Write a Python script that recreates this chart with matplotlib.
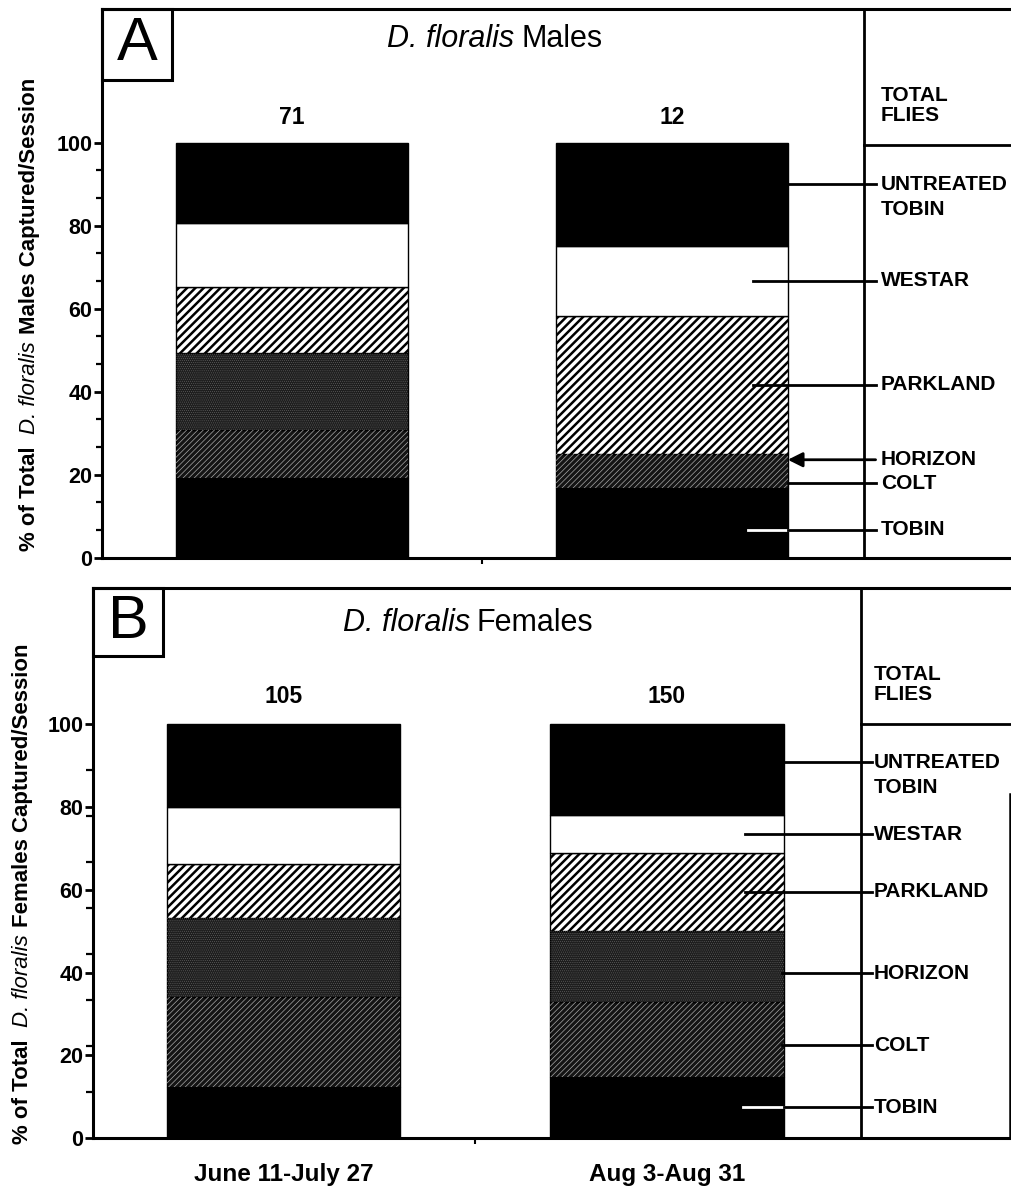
import matplotlib
matplotlib.use("Agg")
import matplotlib.pyplot as plt
from matplotlib.patches import Rectangle
from matplotlib.text import Annotation
from matplotlib.ticker import FixedLocator
import numpy as np

plt.rcParams["font.family"] = ["Liberation Sans", "DejaVu Sans"]

# ---- data -------------------------------------------------------------
periods = ["June 11-July 27", "Aug 3-Aug 31"]
varieties = ["TOBIN", "COLT", "HORIZON", "PARKLAND", "WESTAR", "UNTREATED TOBIN"]  # bottom -> top

males_early = [19.1, 11.7, 18.6, 15.9, 15.3, 19.4]
males_late = [16.7, 8.3, 0.0, 33.3, 16.7, 25.0]
females_early = [12.4, 21.6, 19.1, 13.0, 13.9, 20.0]
females_late = [14.9, 18.1, 17.1, 18.7, 9.2, 22.0]

total_males = [71, 12]
total_females = [105, 150]

species = "D. floralis"

# ---- styling ----------------------------------------------------------
fill_styles = {
    "TOBIN": dict(face="black"),
    "COLT": dict(face="#141414", hatch="//////", hcolor="#a8a8a8", hlw=0.5),
    "HORIZON": dict(face="#1e1e1e", hatch="........", hcolor="#6e6e6e", hlw=0.3),
    "PARKLAND": dict(face="white", hatch="////", hcolor="black", hlw=1.8),
    "WESTAR": dict(face="white"),
    "UNTREATED TOBIN": dict(face="black"),
}

W, H = 1012, 1188
fig = plt.figure(figsize=(W / 100, H / 100), dpi=100)

BAR_W = 0.61
SEP_X = 1.506
LEG_FS = 15
TICK_FS = 15.5


def px_axes(left, right, top, bottom):
    return [left / W, (H - bottom) / H, (right - left) / W, (bottom - top) / H]


def hatch_bar(ax, x, h, b, hatch, color, lw):
    with plt.rc_context({"hatch.linewidth": lw}):
        bars = ax.bar(x, h, bottom=b, width=BAR_W, facecolor="none",
                      edgecolor=color, linewidth=0, hatch=hatch, zorder=3)
    for p in bars:
        if hasattr(p, "set_hatch_linewidth"):
            p.set_hatch_linewidth(lw)


def stacked(ax, x, values):
    bottom = 0.0
    for name, v in zip(varieties, values):
        st = fill_styles[name]
        if v > 0:
            ax.bar(x, v, bottom=bottom, width=BAR_W, color=st["face"],
                   edgecolor="black", linewidth=1.0, zorder=2)
            if "hatch" in st:
                hatch_bar(ax, x, v, bottom, st["hatch"], st["hcolor"], st["hlw"])
        bottom += v


def panel(ax, letter, sex, early, late, totals, ytop, xlim, box_w, box_h,
          label_y, line_start, arrow_idx, text_x, div_y, count_y, title_xy):
    stacked(ax, 0, early)
    stacked(ax, 1, late)
    ax.set_xlim(*xlim)
    ax.set_ylim(0, ytop)

    for s in ["top", "left", "bottom"]:
        ax.spines[s].set_linewidth(2.2)
    ax.spines["right"].set_visible(False)

    ax.set_yticks([0, 20, 40, 60, 80, 100])
    ax.set_yticklabels(["0", "20", "40", "60", "80", "100"],
                       fontsize=TICK_FS, fontweight="bold")
    ax.tick_params(axis="y", which="major", direction="out", length=6, width=2, pad=1)
    ax.tick_params(axis="y", which="minor", direction="out", length=4, width=1.6)

    ax.axvline(SEP_X, color="black", lw=2)
    ax.plot([SEP_X, xlim[1]], [div_y, div_y], color="black", lw=2, clip_on=False)

    # panel letter box
    ax.add_patch(Rectangle((0, 1 - box_h), box_w, box_h, transform=ax.transAxes,
                           fill=False, lw=2.2, edgecolor="black", zorder=5, clip_on=False))
    ax.text(box_w / 2, 1 - box_h / 2, letter, transform=ax.transAxes,
            ha="center", va="center", fontsize=44)

    # panel title: italic species name followed by the sex
    t1 = ax.text(title_xy[0], title_xy[1], species, ha="left", va="center",
                 fontsize=22, fontstyle="italic")
    ax.annotate(sex, xy=(1, 0), xycoords=t1, xytext=(5, 0),
                textcoords="offset points", ha="left", va="bottom", fontsize=22)

    for i, n in enumerate(totals):
        ax.text(i, count_y, str(n), ha="center", va="center",
                fontsize=16.5, fontweight="bold")

    ax.text(text_x, div_y + 9.5, "TOTAL\nFLIES", ha="left", va="center",
            fontsize=LEG_FS, fontweight="bold", linespacing=1.1)

    edge = 1 + BAR_W / 2
    end_x = SEP_X + 0.03
    for i, name in enumerate(varieties):
        y = label_y[i]
        x0 = line_start[i]
        if i == arrow_idx:
            ax.annotate("", xy=(edge, y), xytext=(end_x, y),
                        arrowprops=dict(arrowstyle="-|>", lw=2, color="black",
                                        mutation_scale=22, shrinkA=0, shrinkB=0))
        elif name == "TOBIN":
            ax.plot([x0, edge], [y, y], color="white", lw=2, zorder=6)
            ax.plot([edge, end_x], [y, y], color="black", lw=2, zorder=6, clip_on=False)
        else:
            ax.plot([x0, end_x], [y, y], color="black", lw=2, zorder=6, clip_on=False)
        if name == "UNTREATED TOBIN":
            ax.text(text_x, y, "UNTREATED", ha="left", va="center",
                    fontsize=LEG_FS, fontweight="bold")
            ax.text(text_x, y - 6.2, "TOBIN", ha="left", va="center",
                    fontsize=LEG_FS, fontweight="bold")
        else:
            ax.text(text_x, y, name, ha="left", va="center",
                    fontsize=LEG_FS, fontweight="bold")


def y_title(x_px, bottom_px, sex):
    """Vertical axis title built from pieces so the species name is italic."""
    p1 = fig.text(x_px / W, 1 - bottom_px / H, "% of Total", rotation=90,
                  ha="center", va="bottom", fontsize=16, fontweight="bold")
    p2 = fig.add_artist(Annotation(
        species, xy=(0.5, 1), xycoords=p1, xytext=(0, 9), textcoords="offset points",
        rotation=90, ha="center", va="bottom", fontsize=16, fontstyle="italic"))
    fig.add_artist(Annotation(
        sex + " Captured/Session", xy=(0.5, 1), xycoords=p2, xytext=(0, 5),
        textcoords="offset points", rotation=90, ha="center", va="bottom",
        fontsize=16, fontweight="bold"))


# ---- panel A: males ----------------------------------------------------
axA = fig.add_axes(px_axes(102, 1012, 9, 557.7))
panel(axA, "A", "Males", males_early, males_late, total_males,
      ytop=132.2, xlim=(-0.5, 1.895), box_w=70 / 910, box_h=71 / 548.7,
      label_y=[6.7, 17.9, 23.6, 41.7, 66.7, 90.0],
      line_start=[1.2, 1.305, 1.305, 1.213, 1.213, 1.305], arrow_idx=2,
      text_x=1.55, div_y=99.5, count_y=106.0, title_xy=(0.25, 125.0))
axA.yaxis.set_minor_locator(FixedLocator(np.arange(16) * 20 / 3))
axA.set_xticks([0, 1])
axA.set_xticklabels(["", ""])
axA.xaxis.set_minor_locator(FixedLocator([0.5]))
axA.tick_params(axis="x", which="major", length=0)
axA.tick_params(axis="x", which="minor", direction="out", length=4, width=1.5)

# ---- panel B: females --------------------------------------------------
axB = fig.add_axes(px_axes(93, 1012, 588, 1138.3))
panel(axB, "B", "Females", females_early, females_late, total_females,
      ytop=132.8, xlim=(-0.497, 1.901), box_w=70 / 919, box_h=68 / 550.3,
      label_y=[7.5, 22.5, 39.8, 59.5, 73.4, 90.8],
      line_start=[1.2, 1.30, 1.30, 1.204, 1.204, 1.30], arrow_idx=-1,
      text_x=1.54, div_y=100.0, count_y=106.5, title_xy=(0.155, 124.4))
axB.yaxis.set_minor_locator(FixedLocator(np.arange(10) * 100 / 9))
axB.tick_params(axis="y", which="minor", length=5)
axB.set_xticks([0, 1])
axB.set_xticklabels(periods, fontsize=17.5, fontweight="bold")
axB.xaxis.set_minor_locator(FixedLocator([0.5]))
axB.tick_params(axis="x", which="major", length=0, pad=18)
axB.tick_params(axis="x", which="minor", direction="out", length=4, width=1.5)
axB.plot([1.896, 1.896], [0, 83.1], color="black", lw=1.8, clip_on=False)

# ---- y-axis titles -----------------------------------------------------
y_title(30, 551, "Males")
y_title(23, 1144, "Females")

fig.savefig("out.png", dpi=100)
